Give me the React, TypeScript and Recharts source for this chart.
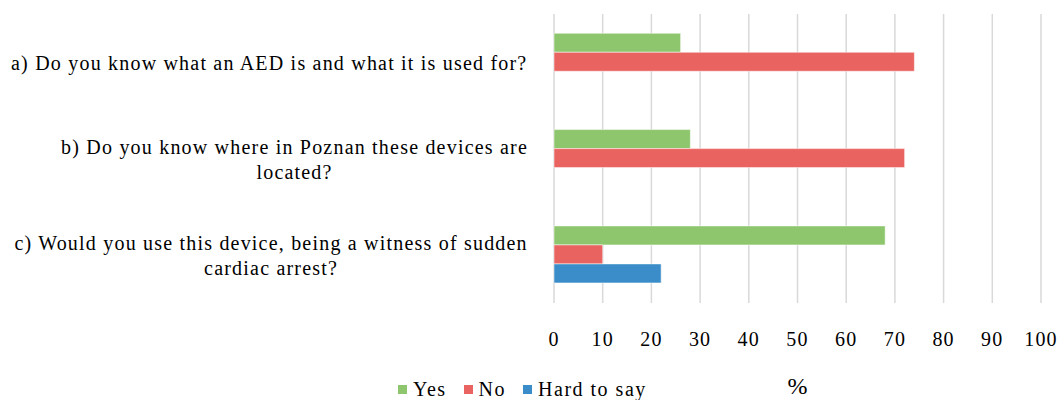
import { BarChart, Bar, XAxis, YAxis, CartesianGrid, Legend } from 'recharts'

const questions = [
  'a) Do you know what an AED is and what it is used for?',
  'b) Do you know where in Poznan these devices are\nlocated?',
  'c) Would you use this device, being a witness of sudden\ncardiac arrest?',
]
const yesValues = [26, 28, 68]
const noValues = [74, 72, 10]
const hardValues = [0, 0, 22]
const xTicks = [0, 10, 20, 30, 40, 50, 60, 70, 80, 90, 100]

const series = [
  { key: 'yes', name: 'Yes', color: '#8DC66D' },
  { key: 'no', name: 'No', color: '#E96461' },
  { key: 'hard', name: 'Hard to say', color: '#3A8DC8' },
]

const data = questions.map((q, i) => ({
  question: q,
  yes: yesValues[i],
  no: noValues[i],
  hard: hardValues[i],
}))

const FONT = '"Liberation Serif", "Times New Roman", serif'
const FS = 20
const LS = 1.2 // the scan is stretched sideways a bit

let ctx: CanvasRenderingContext2D | null = null
function measure(s: string) {
  if (!ctx) ctx = document.createElement('canvas').getContext('2d')
  if (!ctx) return s.length * 10
  ctx.font = `${FS}px ${FONT}`
  return ctx.measureText(s).width + s.length * LS
}

function QuestionTick({ x, y, payload }: any) {
  const lines = String(payload.value).split('\n')
  const w = Math.max(...lines.map(measure))
  const cx = x - w / 2
  const lh = 26
  const top = y - ((lines.length - 1) * lh) / 2
  return (
    <text
      x={cx}
      y={top}
      textAnchor="middle"
      fill="#000"
      style={{ fontFamily: FONT, fontSize: FS, letterSpacing: LS }}
    >
      {lines.map((l, i) => (
        <tspan key={i} x={cx} y={i === 0 ? top + 1 : top + i * lh} dy="0.35em">
          {l}
        </tspan>
      ))}
    </text>
  )
}

function LegendContent() {
  return (
    <div
      style={{
        display: 'flex',
        height: 35,
        alignItems: 'flex-end',
        paddingLeft: 398,
        paddingBottom: 1,
        boxSizing: 'border-box',
        fontFamily: FONT,
        fontSize: FS,
        letterSpacing: 1.5,
        lineHeight: '20px',
        color: '#000',
      }}
    >
      {series.map((s) => (
        <span key={s.key} style={{ display: 'inline-flex', alignItems: 'center', marginRight: 17 }}>
          <span style={{ width: 9, height: 9, background: s.color, marginRight: 6, display: 'inline-block' }} />
          {s.name}
        </span>
      ))}
    </div>
  )
}

export default function App() {
  return (
    <div style={{ position: 'absolute', left: 0, top: 0, background: '#fff', fontFamily: FONT }}>
      <BarChart
        width={1060}
        height={400}
        data={data}
        layout="vertical"
        margin={{ top: 14, right: 19, left: 0, bottom: 0 }}
        barCategoryGap="20%"
        barGap={0}
        style={{ fontFamily: FONT }}
      >
        <CartesianGrid horizontal={false} stroke="#D9D9D9" strokeWidth={1.5} />
        <XAxis
          type="number"
          domain={[0, 100]}
          ticks={xTicks}
          axisLine={false}
          tickLine={false}
          tickSize={0}
          tickMargin={29}
          height={62}
          tick={{ fill: '#000', fontSize: FS, style: { fontFamily: FONT, letterSpacing: LS } }}
          label={{ value: '%', position: 'bottom', offset: 12, fill: '#000', fontSize: 24, style: { fontFamily: FONT } }}
        />
        <YAxis
          type="category"
          dataKey="question"
          width={554}
          axisLine={false}
          tickLine={false}
          tickSize={0}
          tickMargin={26}
          tick={<QuestionTick />}
        />
        <Legend verticalAlign="bottom" content={<LegendContent />} />
        {series.map((s) => (
          <Bar
            key={s.key}
            dataKey={s.key}
            name={s.name}
            fill={s.color}
            stroke="#ffffff"
            strokeOpacity={0.5}
            strokeWidth={1}
            isAnimationActive={false}
          />
        ))}
      </BarChart>
    </div>
  )
}
